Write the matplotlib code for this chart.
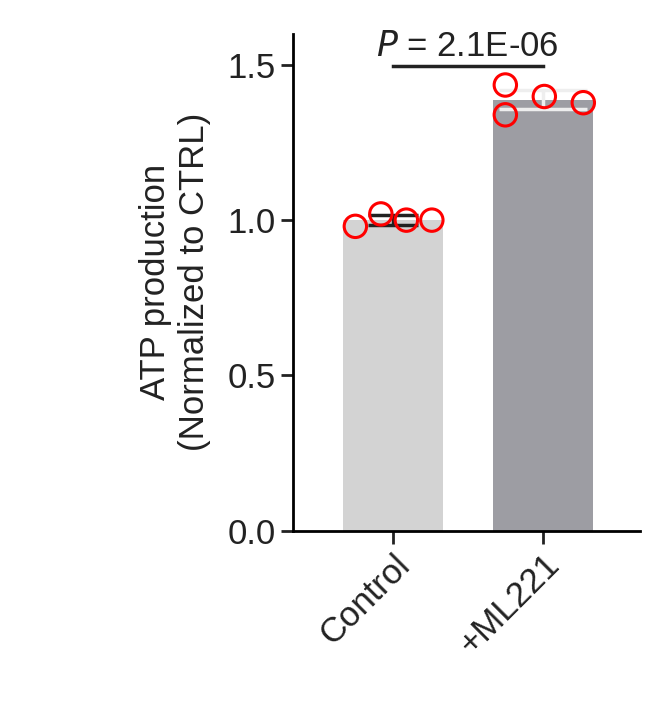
import matplotlib
matplotlib.use("Agg")
import matplotlib.pyplot as plt
import numpy as np

plt.rcParams['font.family'] = ['Liberation Sans', 'DejaVu Sans']

categories = ["Control", "+ML221"]
means = [1.0, 1.388]
sds = [0.016, 0.03]
points = [[0.98, 1.02, 1.00, 1.00], [1.435, 1.339, 1.398, 1.378]]
jitter = [[-0.25, -0.08, 0.09, 0.26], [-0.25, -0.25, 0.01, 0.27]]
bar_colors = ["#d3d3d3", "#9d9da3"]
pval = "2.1E-06"

fig = plt.figure(figsize=(6.61, 7.03), dpi=100)
ax = fig.add_axes([0.443, 0.245, 0.525, 0.707])
x = np.arange(len(categories))
ax.bar(x, means, width=0.667, color=bar_colors, zorder=1)
for i in x:
    ax.errorbar(i, means[i], yerr=sds[i], color='#222222' if i == 0 else '#eeeeee',
                capsize=18 if i == 0 else 32, lw=2.5, capthick=2.5, zorder=2)
    ax.scatter(i + np.array(jitter[i]), points[i], s=260, facecolor='none',
               edgecolor='red', lw=2.2, zorder=3)
ax.set_xlim(-0.667, 1.647)
ax.set_ylim(0, 1.6)
ax.set_yticks([0, 0.5, 1.0, 1.5])
ax.set_yticklabels(["0.0", "0.5", "1.0", "1.5"])
ax.set_xticks(x)
ax.set_xticklabels(categories, rotation=45, ha='right', rotation_mode='anchor')
ax.tick_params(labelsize=25, width=2, length=9, colors='#222222')
for s in ['top', 'right']:
    ax.spines[s].set_visible(False)
for s in ['left', 'bottom']:
    ax.spines[s].set_linewidth(2)
ax.set_ylabel("ATP production\n(Normalized to CTRL)", fontsize=25, color='#222222', labelpad=12)
ax.plot([0.0, 1.0], [1.495, 1.495], color='#222222', lw=2.5, clip_on=False)
ax.text(0.5, 1.505, r"$\it{P}$ = " + pval, ha='center', va='bottom', fontsize=25, color='#222222')
fig.savefig("out.png", dpi=100)
